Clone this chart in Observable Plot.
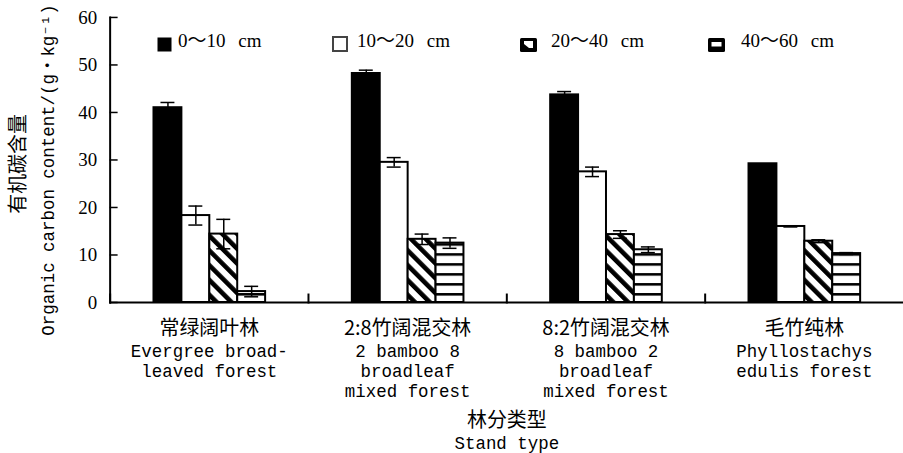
<!DOCTYPE html>
<html>
<head>
<meta charset="utf-8">
<script src="https://cdn.jsdelivr.net/npm/d3@7"></script>
<script src="https://cdn.jsdelivr.net/npm/@observablehq/plot@0.6"></script>
<style>
html, body { margin: 0; padding: 0; background: #fff; overflow: hidden; }
#wrap { position: relative; width: 903px; height: 453px; overflow: hidden; background: #fff; }
#legend { position: absolute; left: 0; top: 0; width: 903px; height: 60px; font-family: "Liberation Serif", "Noto Sans CJK SC", serif; font-size: 19px; color: #000; }
.sw { position: absolute; }
.lt { position: absolute; white-space: nowrap; line-height: 22px; word-spacing: 8px; }
</style>
</head>
<body>
<div id="wrap">
<svg width="0" height="0" style="position:absolute">
  <defs>
    <pattern id="diag" patternUnits="userSpaceOnUse" width="10.5" height="10.5" patternTransform="rotate(-45)">
      <rect width="10.5" height="10.5" fill="white"/>
      <rect width="4.6" height="10.5" fill="black"/>
    </pattern>
    <pattern id="horiz" patternUnits="userSpaceOnUse" width="10" height="10">
      <rect width="10" height="10" fill="white"/>
      <rect y="4" width="10" height="2.6" fill="black"/>
    </pattern>
  </defs>
</svg>
<div id="chart"></div>
<div id="legend"></div>
</div>
<script>
// ---- data ----
const categories = ["常绿阔叶林", "2:8竹阔混交林", "8:2竹阔混交林", "毛竹纯林"];
const categoryEn = [
  ["Evergree broad-", "leaved forest"],
  ["2 bamboo 8", "broadleaf", "mixed forest"],
  ["8 bamboo 2", "broadleaf", "mixed forest"],
  ["Phyllostachys", "edulis forest"]
];
const depths = ["0～10 cm", "10～20 cm", "20～40 cm", "40～60 cm"];
const mean0_10  = [41.0, 48.2, 43.7, 29.2];
const mean10_20 = [18.3, 29.5, 27.5, 16.0];
const mean20_40 = [14.4, 13.3, 14.3, 12.9];
const mean40_60 = [2.3, 12.5, 11.1, 10.3];
const err0_10  = [1.1, 0.7, 0.7, 0];
const err10_20 = [2.0, 1.0, 1.0, 0.1];
const err20_40 = [3.1, 1.1, 0.8, 0.3];
const err40_60 = [1.1, 1.1, 0.6, 0.2];
const yTicks = [0, 10, 20, 30, 40, 50, 60];
const yTitleCn = "有机碳含量";
const yTitleEn = "Organic carbon content/(g・kg⁻¹)";
const xTitleCn = "林分类型";
const xTitleEn = "Stand type";

const fills = ["black", "white", "url(#diag)", "url(#horiz)"];
const means = [mean0_10, mean10_20, mean20_40, mean40_60];
const errs = [err0_10, err10_20, err20_40, err40_60];

const data = categories.flatMap((c, i) => depths.map((d, j) => ({cat: c, depth: d, value: means[j][i], err: errs[j][i]})));
const errData = data.filter(d => d.err > 0);
const catData = categories.map((c, i) => ({cat: c, en: categoryEn[i].join("\n")}));

// ---- layout ----
const W = 906, H = 453, mL = 110, mT = 17, mB = 150;
const facetW = (W - mL) / categories.length;
const frameH = H - mT - mB;
const tickLen = 8;

const CJK = '"Noto Sans CJK SC", sans-serif';
const MONO = '"Liberation Mono", "Noto Sans CJK SC", monospace';

const plot = Plot.plot({
  width: W, height: H,
  marginLeft: mL, marginRight: 0, marginTop: mT, marginBottom: mB,
  style: {fontFamily: MONO, fontSize: "17px", background: "white", color: "black", overflow: "visible"},
  fx: {domain: categories, padding: 0, axis: null, label: null},
  x: {domain: depths, paddingInner: 0, paddingOuter: 1.5, axis: null},
  y: {domain: [0, 60], axis: null},
  color: {type: "ordinal", domain: depths, range: fills},
  marks: [
    Plot.barY(data, {fx: "cat", x: "depth", y: "value", fill: "depth", stroke: "black", strokeWidth: 2}),
    Plot.ruleX(errData, {fx: "cat", x: "depth", y1: d => d.value - d.err, y2: d => d.value + d.err, stroke: "black", strokeWidth: 1.5}),
    Plot.tickY(errData, {fx: "cat", x: "depth", y: d => d.value + d.err, insetLeft: 7, insetRight: 7, stroke: "black", strokeWidth: 1.5}),
    Plot.tickY(errData, {fx: "cat", x: "depth", y: d => d.value - d.err, insetLeft: 7, insetRight: 7, stroke: "black", strokeWidth: 1.5}),
    Plot.ruleY([0], {stroke: "black", strokeWidth: 2}),
    Plot.frame({anchor: "left", facetAnchor: "left", stroke: "black", strokeWidth: 2}),
    Plot.frame({anchor: "left", insetTop: frameH - tickLen, stroke: "black", strokeWidth: 2}),
    Plot.ruleY(yTicks, {y: d => d, facetAnchor: "left", insetRight: facetW - tickLen, stroke: "black", strokeWidth: 1.5}),
    Plot.axisY(yTicks, {tickSize: 0, tickPadding: 13, fontFamily: '"Liberation Serif", serif', fontSize: 19, facetAnchor: "left", label: null}),
    Plot.text(catData, {fx: "cat", text: "cat", frameAnchor: "bottom", lineAnchor: "middle", dy: 26, fontFamily: CJK, fontSize: 20}),
    Plot.text(catData, {fx: "cat", text: "en", frameAnchor: "bottom", lineAnchor: "top", dy: 40, lineHeight: 1.15, fontSize: 17.5}),
    Plot.text([yTitleCn], {text: d => d, frameAnchor: "left", facetAnchor: "left", textAnchor: "middle", rotate: -90, dx: -92, dy: 4, fontFamily: CJK, fontSize: 20}),
    Plot.text([yTitleEn], {text: d => d, frameAnchor: "left", facetAnchor: "left", textAnchor: "middle", rotate: -90, dx: -62, dy: 10, fontSize: 17.5}),
    Plot.text([xTitleCn], {fx: () => categories[1], text: d => d, frameAnchor: "bottom-right", textAnchor: "middle", lineAnchor: "middle", dy: 119, fontFamily: CJK, fontSize: 20}),
    Plot.text([xTitleEn], {fx: () => categories[1], text: d => d, frameAnchor: "bottom-right", textAnchor: "middle", lineAnchor: "middle", dy: 141, fontSize: 17.5})
  ]
});
document.getElementById("chart").appendChild(plot);

// ---- legend (inside plot area, top) ----
const swLeft = [157, 332, 520, 708];
const txtLeft = [178, 357, 551, 741];
const swatches = [
  '<svg width="15" height="15"><rect x="0.5" y="0.5" width="14" height="14" fill="black"/></svg>',
  '<svg width="16" height="16"><rect x="1" y="1" width="14" height="14" fill="white" stroke="#444" stroke-width="2"/></svg>',
  '<svg width="17" height="14"><rect x="0" y="0" width="17" height="14" rx="1.5" fill="black"/><polygon points="4,3 13,3 13,10 9,10 4,6" fill="white"/></svg>',
  '<svg width="17" height="14"><rect x="0" y="0" width="17" height="14" rx="1.5" fill="black"/><rect x="3.5" y="4" width="10" height="4.5" fill="white"/></svg>'
];
const legend = document.getElementById("legend");
depths.forEach((d, i) => {
  const s = document.createElement("div");
  s.className = "sw";
  s.style.left = swLeft[i] + "px";
  s.style.top = "35px";
  s.innerHTML = swatches[i];
  legend.appendChild(s);
  const t = document.createElement("div");
  t.className = "lt";
  t.style.left = txtLeft[i] + "px";
  t.style.top = "30px";
  t.textContent = d;
  legend.appendChild(t);
});
</script>
</body>
</html>
